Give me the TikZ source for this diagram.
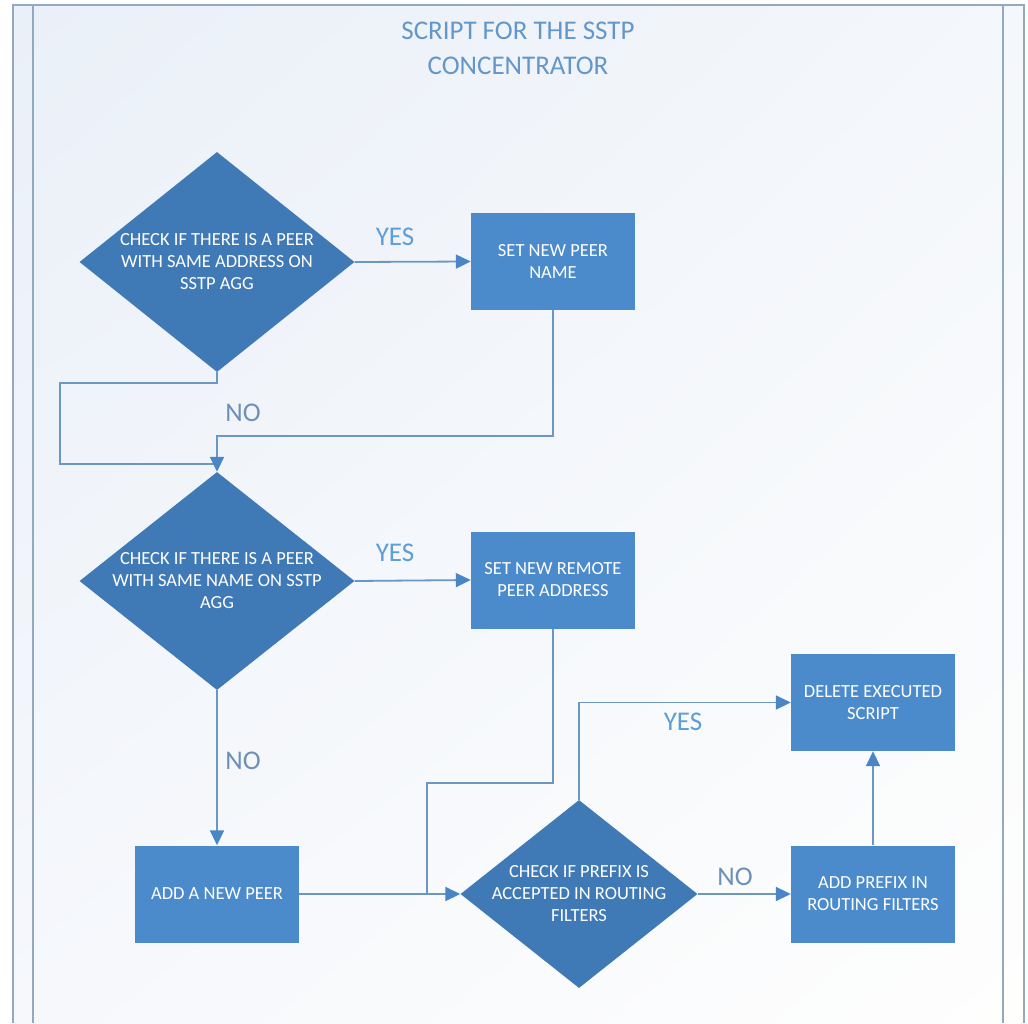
\documentclass[tikz,border=0pt]{standalone}
\usepackage{fontspec}
\setmainfont{Carlito}
\usetikzlibrary{shapes.geometric,arrows.meta,shadings}

\definecolor{frameline}{HTML}{93A9BF}
\definecolor{decfill}{HTML}{3F79B6}
\definecolor{boxfill}{HTML}{4B8ACB}
\definecolor{linkline}{HTML}{6C97C2}
\definecolor{tipblue}{HTML}{4A86C5}
\definecolor{titleblue}{HTML}{6497C9}
\definecolor{yesblue}{HTML}{5D9ED6}
\definecolor{noblue}{HTML}{6F90B6}
\definecolor{bgUL}{RGB}{234,240,248}
\definecolor{bgUR}{RGB}{244,247,251}
\definecolor{bgLL}{RGB}{246,248,252}
\definecolor{bgLR}{RGB}{254,254,253}

\tikzset{
  decision/.style={diamond, fill=decfill, inner sep=0pt},
  decisiontext/.style={text=white, align=center, font=\fontsize{18.5}{22}\selectfont},
  process/.style={rectangle, fill=boxfill, minimum width=164pt, minimum height=97pt,
    inner sep=0pt, text=white, align=center, font=\fontsize{18.5}{22}\selectfont},
  link/.style={draw=linkline, line width=1.8pt},
  flow/.style={link, -{Triangle[length=15pt,width=14pt,color=tipblue]}},
  yeslabel/.style={text=yesblue, font=\fontsize{27}{30}\selectfont},
  nolabel/.style={text=noblue, font=\fontsize{27}{30}\selectfont},
  frame/.style={draw=frameline, line width=1.5pt}
}

\begin{document}
\begin{tikzpicture}[x=1pt, y=-1pt]
  % page and swimlane background
  \useasboundingbox (0,0) rectangle (1028,1023);
  \fill[white] (0,0) rectangle (1028,1023);
  \shade[upper left=bgUL, upper right=bgUR, lower left=bgLL, lower right=bgLR]
    (13,5) rectangle (1024,1023);
  \draw[frame] (13,1023) -- (13,5) -- (1024,5) -- (1024,1023);
  \draw[frame] (33,5) -- (33,1023);
  \draw[frame] (1003,5) -- (1003,1023);

  % title
  \node[text=titleblue, align=center, font=\fontsize{27}{35}\selectfont] (title) at (518,48)
    {SCRIPT FOR THE SSTP\\CONCENTRATOR};

  % decisions
  \node[decision, minimum width=275pt, minimum height=220pt] (d1) at (217,262) {};
  \node[decisiontext] (d1t) at (d1.center) {CHECK IF THERE IS A PEER\\WITH SAME ADDRESS ON\\SSTP AGG};
  \node[decision, minimum width=275pt, minimum height=218pt] (d2) at (217,581) {};
  \node[decisiontext] (d2t) at (d2.center) {CHECK IF THERE IS A PEER\\WITH SAME NAME ON SSTP\\AGG};
  \node[decision, minimum width=237pt, minimum height=188pt] (d3) at (579,894) {};
  \node[decisiontext] (d3t) at (d3.center) {CHECK IF PREFIX IS\\ACCEPTED IN ROUTING\\FILTERS};

  % processes
  \node[process] (b1) at (553,261.5) {SET NEW PEER\\NAME};
  \node[process] (b2) at (553,580) {SET NEW REMOTE\\PEER ADDRESS};
  \node[process] (b3) at (217,894) {ADD A NEW PEER};
  \node[process] (b4) at (873,702.5) {DELETE EXECUTED\\SCRIPT};
  \node[process] (b5) at (873,894) {ADD PREFIX IN\\ROUTING FILTERS};

  % connectors
  \draw[flow] (d1.east) -- (b1.west);
  \draw[link] (d1.south) -- ++(0,11) -| (60,464) -- (d2.north |- 0,464);
  \draw[flow] (b1.south) |- (217,436) -- (d2.north);
  \draw[flow] (d2.east) -- (b2.west);
  \draw[flow] (d2.south) -- (b3.north);
  \draw[flow] (b3.east) -- (d3.west);
  \draw[link] (b2.south) |- (427,783) -- (427,894);
  \draw[flow] (d3.north) |- (b4.west);
  \draw[flow] (d3.east) -- (b5.west);
  \draw[flow] (b5.north) -- (b4.south);

  % branch labels
  \node[yeslabel] (y1) at (395,237) {YES};
  \node[nolabel] (n1) at (243,413) {NO};
  \node[yeslabel] (y2) at (395,553) {YES};
  \node[nolabel] (n2) at (243,761) {NO};
  \node[yeslabel] (y3) at (683,722) {YES};
  \node[nolabel] (n3) at (735,877) {NO};
\end{tikzpicture}
\end{document}
